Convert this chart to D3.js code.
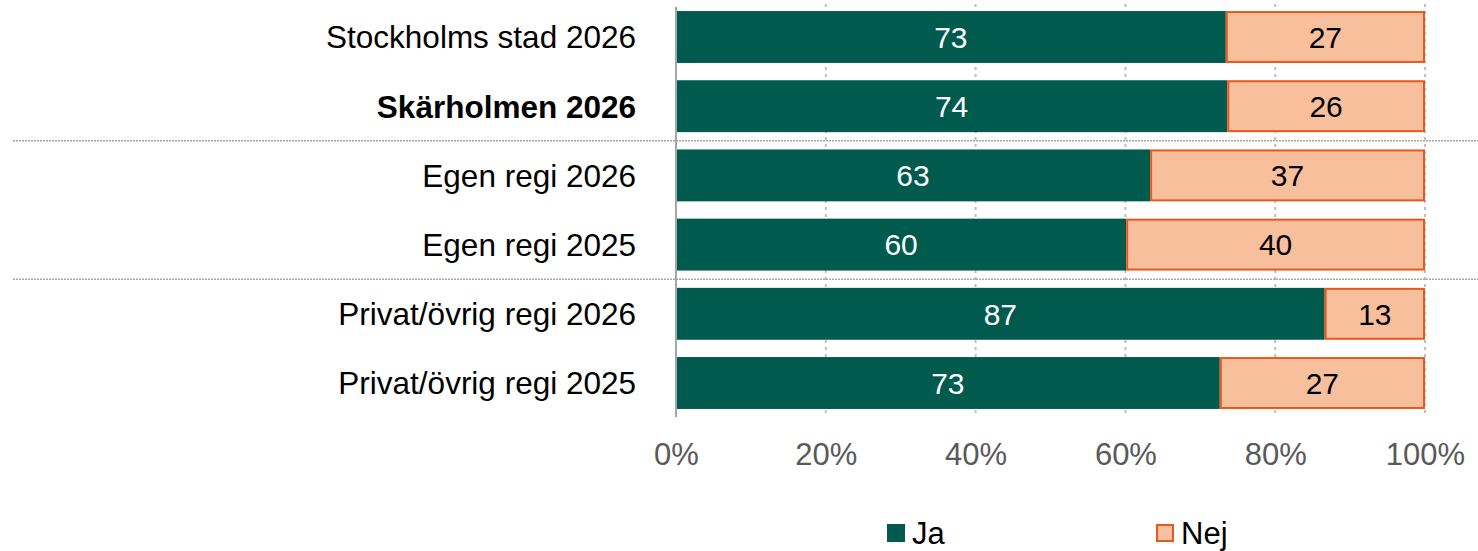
<!DOCTYPE html>
<html><head><meta charset="utf-8">
<script src="https://cdn.jsdelivr.net/npm/d3@7"></script>
<style>body{margin:0;background:#fff;} text{font-family:"Liberation Sans",Arial,sans-serif;}</style>
</head><body>
<svg id="c" width="1478" height="551"></svg>
<script>
const categories = ["Stockholms stad 2026","Skärholmen 2026","Egen regi 2026","Egen regi 2025","Privat/övrig regi 2026","Privat/övrig regi 2025"];
const boldCategories = ["Skärholmen 2026"];
const jaValues = [73.4,73.6,63.3,60.1,86.6,72.6];
const nejValues = [26.6,26.4,36.7,39.9,13.4,27.4];
const tickValues = [0,20,40,60,80,100];
const tickLabels = ["0%","20%","40%","60%","80%","100%"];
const seriesNames = ["Ja","Nej"];
const separatorsAfter = ["Skärholmen 2026","Egen regi 2025"];

const svg = d3.select("#c");
const x = d3.scaleLinear().domain([0,100]).range([676,1425]);
const y = d3.scaleBand().domain(categories).range([2.4,417.6]).paddingInner(0.25).paddingOuter(0.125);
const colJa = "#005A4E", colNej = "#F8BF9D", strokeNej = "#E8581C";

// gridlines
svg.append("g").selectAll("line").data(tickValues.slice(1)).join("line")
  .attr("x1",d=>x(d)).attr("x2",d=>x(d)).attr("y1",4).attr("y2",417)
  .attr("stroke","#bfbfbf").attr("stroke-width",2).attr("stroke-dasharray","3,4");

// separators
svg.append("g").selectAll("line").data(separatorsAfter).join("line")
  .attr("x1",13).attr("x2",1478)
  .attr("y1",d=>y(d)+y.bandwidth()+y.step()*y.paddingInner()/2)
  .attr("y2",d=>y(d)+y.bandwidth()+y.step()*y.paddingInner()/2)
  .attr("stroke","#a6a6a6").attr("stroke-width",1.5).attr("stroke-dasharray","2,1");

const rows = categories.map((c,i)=>({c, ja:jaValues[i], nej:nejValues[i]}));

// Ja bars
svg.append("g").selectAll("rect").data(rows).join("rect")
  .attr("x",x(0)).attr("y",d=>y(d.c)).attr("width",d=>x(d.ja)-x(0)).attr("height",y.bandwidth())
  .attr("fill",colJa);
// Nej bars
svg.append("g").selectAll("rect").data(rows).join("rect")
  .attr("x",d=>x(d.ja)+1).attr("y",d=>y(d.c)+1).attr("width",d=>x(d.ja+d.nej)-x(d.ja)-2).attr("height",y.bandwidth()-2)
  .attr("fill",colNej).attr("stroke",strokeNej).attr("stroke-width",2);

// value labels
svg.append("g").selectAll("text").data(rows).join("text")
  .attr("x",d=>(x(0)+x(d.ja))/2).attr("y",d=>y(d.c)+y.bandwidth()/2).attr("dy","0.36em")
  .attr("text-anchor","middle").attr("font-size",30).attr("fill","#fff").text(d=>Math.round(d.ja));
svg.append("g").selectAll("text").data(rows).join("text")
  .attr("x",d=>(x(d.ja)+x(d.ja+d.nej))/2).attr("y",d=>y(d.c)+y.bandwidth()/2).attr("dy","0.36em")
  .attr("text-anchor","middle").attr("font-size",30).attr("fill","#000").text(d=>Math.round(d.nej));

// y axis line
svg.append("line").attr("x1",x(0)).attr("x2",x(0)).attr("y1",7).attr("y2",417)
  .attr("stroke","#a6a6a6").attr("stroke-width",2);

// category labels
svg.append("g").selectAll("text").data(categories).join("text")
  .attr("x",636).attr("y",d=>y(d)+y.bandwidth()/2).attr("dy","0.36em")
  .attr("text-anchor","end").attr("font-size",31.5).attr("fill","#000")
  .attr("font-weight",d=>boldCategories.includes(d)?"bold":"normal").text(d=>d);

// x tick labels
const xAxis = d3.axisBottom(x).tickValues(tickValues).tickFormat((d,i)=>tickLabels[i]).tickSize(0);
const ga = svg.append("g").attr("transform","translate(0,440)").call(xAxis);
ga.select(".domain").remove();
ga.selectAll("text").attr("font-size",31).attr("fill","#595959").attr("font-family","Liberation Sans, Arial, sans-serif").attr("dy","0.71em");

// legend
const legend = svg.append("g");
const lx = [887,1156];
seriesNames.forEach((s,i)=>{
  legend.append("rect").attr("x",lx[i]+(i?1:0)).attr("y",524+(i?1:0)).attr("width",i?16:18).attr("height",i?16:18)
    .attr("fill",i?colNej:colJa).attr("stroke",i?strokeNej:"none").attr("stroke-width",2);
  legend.append("text").attr("x",lx[i]+25).attr("y",544).attr("font-size",31).attr("fill","#000").text(s);
});
</script>
</body></html>
